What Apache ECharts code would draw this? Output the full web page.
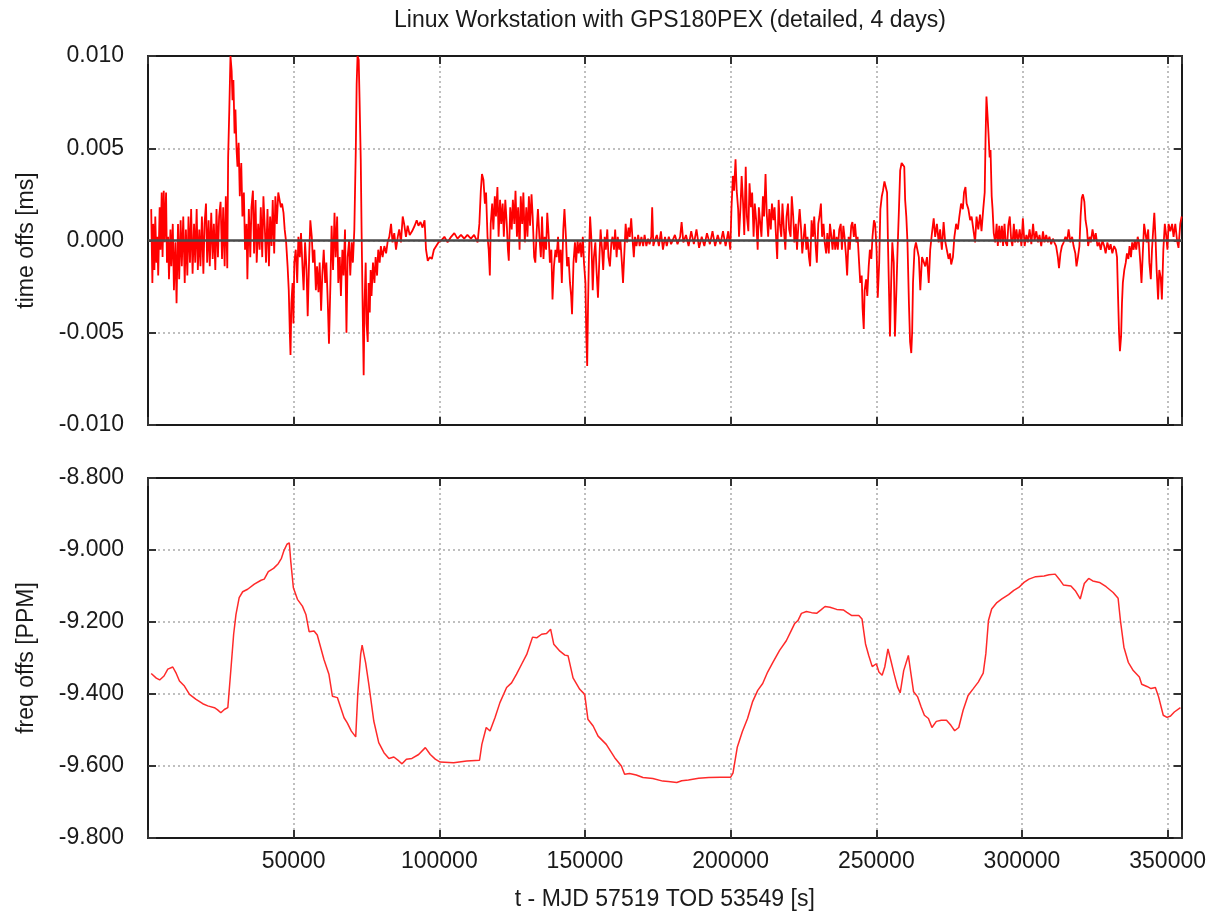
<!DOCTYPE html>
<html>
<head>
<meta charset="utf-8">
<title>GPS180PEX offsets</title>
<script src="https://cdn.jsdelivr.net/npm/echarts@6/dist/echarts.min.js"></script>
<style>
  html, body { margin: 0; padding: 0; background: #fff; }
  #chart { width: 1209px; height: 915px; }
</style>
</head>
<body>
<div id="chart"></div>
<script>
// time offset, pairs of [t in s, offset in microseconds]
const timeOffsSeg1 = [
  [1100,1.7],[1500,-2.3],[1800,0.9],[2200,-1.6],[2500,1.3],[2900,-1.2],[3200,0.2],[3500,-1.9],[4000,1.8],[4300,-0.5],
  [4700,2.6],[5000,-0.9],[5400,2.7],[5700,-0.1],[6200,2.6],[6500,-1.2],[6900,0.2],[7200,-2.1],[7700,0.6],[8000,-1.4],
  [8500,0.9],[8900,-2.7],[9400,-0.1],[9800,-3.4],[10300,0.9],[10700,-2.1],[11200,1.1],[11600,-1.4],[12100,1.3],[12600,-2.3],
  [13000,0.6],[13500,-1.9],[13900,1.3],[14400,-1.2],[14800,1.7],[15300,-1.8],[15800,0.9],[16200,-1.2],[16700,1.7],[17100,-1.6],
  [17600,0.6],[18000,-1.4],[18500,1.3],[19000,-1.8],[19400,0.9],[19900,2.0],[20300,-1.2],[20800,1.1],[21200,-1.4],[21700,1.5],
  [22200,-1.0],[22600,0.9],[23100,-1.6],[23500,1.7],[24000,-0.9],[24400,1.3],[24900,2.1],[25400,-1.0],[25800,1.8],[26300,-1.4],
  [26700,2.4],[27200,-1.5],[27500,4.5],[27900,7.1],[28300,10.0],[28700,9.2],[29000,7.6],[29300,8.7],[29700,5.8],[30000,7.1],
  [30400,4.9],[30700,4.0],[31100,5.3],[31500,2.4],[32000,4.2],[32400,1.3],[32900,2.6],[33300,-0.5],[33800,0.9],[34100,-2.1],
  [34600,1.7],[35100,-0.9],[35500,1.8],[36000,2.7],[36400,-0.7],[36900,2.2],[37300,-1.2],[37800,0.9],[38300,-0.5],[38700,1.8],
  [39200,-0.9],[39600,2.4],[40100,0.6],[40500,-1.2],[41000,1.7],[41500,-1.4],[41900,1.3],[42400,-0.3],[42800,2.2],[43300,-0.7],
  [43700,2.4],[44200,0.9],[44700,2.6],[45100,2.6],[45600,1.8],[46000,2.0],[46500,1.5],[46900,0.6],[47400,-0.1],[47900,-1.4],
  [48300,-2.7],[48700,-5.2],[48900,-6.2],[49200,-3.4],[49600,-2.3],[49900,-4.5],[50200,-1.2],[50700,-0.5],[51200,-2.3],[51600,0.2],
  [52100,-0.9],[52500,0.4],[53000,-1.4],[53400,-2.7],[53900,-0.1],[54400,-1.6],[54800,-4.1],[55300,-0.9],[55700,1.1],[56200,0.2],
  [56600,-1.2],[57100,-0.5],[57600,-2.7],[58000,-1.4],[58500,-2.8],[58900,-1.2],[59400,-3.8],[59800,-1.9],[60300,-0.5],[60800,-2.3],
  [61200,-1.2],[61700,-3.4],[62100,-5.6],[62600,-2.3],[63000,0.8],[63500,-1.6],[64000,1.5],[64400,-0.9],[64900,1.3],[65300,-2.3],
  [65800,-0.9],[66200,-3.0],[66700,-0.5],[67100,-1.9],[67600,0.6],[68100,-5.0],[68500,-0.9],[69000,0.0],[69400,-1.9],[69900,-0.1],
  [70300,-1.2],[70800,0.6],[71300,4.9],[71600,8.5],[71900,10.0],[72300,9.8],[72600,7.6],[73000,4.4],[73300,0.4],[73700,-4.1],
  [74000,-7.3],[74300,-3.4],[74700,-1.2],[75000,-4.5],[75400,-5.5],[75700,-2.3],[76100,-3.9],[76400,-1.6],[76700,-3.0],[77200,-1.2],
  [77700,-2.3],[78100,-0.9],[78600,-1.9],[79000,-0.5],[79500,-1.2],[79900,-0.3],[80500,-0.9],[81100,-0.3],[81700,-0.7],[82200,-0.1],
  [82800,0.2],[83400,0.9],[83900,-0.1],[84500,0.4],[85100,-0.5],[85700,0.2],[86200,0.6],[86800,-0.1],[87400,1.3],[87900,0.9],
  [88500,0.2],[89100,0.8]
];
const timeOffsSeg2 = [
  [89800,0.3],[90600,0.5],[91500,0.8],[92200,1.1],[92800,0.8],[93500,1.0],[94200,0.7],[94900,1.1],[95400,-0.5],[96000,-1.1],
  [96700,-0.9],[97400,-1.0],[98100,-0.5],[98900,-0.3],[99700,-0.1],[100600,0.0],[101700,0.2],[102800,-0.1],[104000,0.2],[105100,0.4],
  [106200,0.1],[107400,0.3],[108500,0.1],[109600,0.3],[110800,0.1],[111900,0.3],[113100,-0.1],[113700,0.9],[114200,2.7],[114600,3.6],
  [115100,3.3],[115600,2.0],[116000,2.6],[116500,0.2],[116900,-0.5],[117300,-1.9],[117600,0.9],[118100,2.0],[118500,0.6],[119000,2.4],
  [119400,1.3],[119900,2.9],[120300,0.2],[120800,2.2],[121200,0.9],[121700,2.0],[122100,0.2],[122600,2.2],[123100,0.9],[123500,-0.5],
  [123800,-1.1],[124300,1.8],[124800,0.6],[125200,2.2],[125700,0.9],[126100,2.7],[126600,0.2],[127000,1.8],[127500,-0.5],[127900,2.4],
  [128400,0.9],[128800,2.6],[129300,-0.1],[129800,1.8],[130200,0.2],[130700,2.4],[131100,0.8],[131600,2.5],[132000,1.3],[132500,-0.9],
  [132900,-1.2],[133400,0.6],[133800,1.7],[134300,0.2],[134800,-0.9],[135200,1.3],[135700,-1.0],[136100,0.2],[136600,-0.5],[137000,1.5],
  [137500,0.2],[137900,-1.2],[138400,-0.5],[138800,-3.2],[139300,-1.4],[139800,-0.5],[140200,-0.9],[140700,0.2],[141100,-1.2],[141600,-0.5],
  [142000,-2.3],[142500,0.6],[142900,1.7],[143400,0.2],[143800,-1.4],[144300,-0.9],[144800,-2.3],[145200,-3.0],[145500,-4.0],[146000,-1.2],
  [146500,-0.1],[146900,-1.2],[147400,0.0],[147800,-0.7],[148300,-0.1],[148700,-0.9],[149200,0.2],[149600,-1.2],[150100,-2.3],[150400,-5.2],
  [150700,-6.8],[151000,-3.4],[151300,-0.9],[151700,1.3],[152100,0.2],[152600,-2.7],[153000,-0.9],[153500,-0.1],[153900,-1.6],[154400,-3.1],
  [154900,-0.9],[155300,0.6],[155800,-0.5],[156200,-1.6],[156700,0.2],[157100,-0.5],[157600,0.6],[158000,-0.9],[158500,-1.4],[159000,-0.1],
  [159400,0.2],[159900,-0.5],[160300,0.6],[160800,-0.9],[161200,0.2],[161700,-0.5],[162100,0.0],[162600,-1.2],[163000,-2.3],[163500,-0.5],
  [163900,0.9],[164400,-0.1],[164900,0.7],[165300,0.2],[165800,1.2],[166200,0.2],[166700,-0.9],[167100,0.2],[167600,-0.3],[168200,0.3],
  [168700,-0.3],[169300,0.2],[169900,-0.3],[170400,0.3],[171000,-0.3],[171600,0.1],[172100,-0.2],[172700,0.2],[173000,1.8],[173400,-0.3],
  [173900,0.0],[174600,0.3],[175300,-0.3],[176000,0.5],[176700,-0.5],[177400,0.2],[178000,-0.3],[178700,0.2],[179500,-0.2]
];
const timeOffsSeg3 = [
  [179900,-0.3],[180800,0.3],[181700,-0.2],[182600,0.2],[183100,1.0],[183700,-0.1],[184600,0.3],[185500,-0.3],[186400,0.5],[187300,-0.2],
  [188200,0.6],[189100,-0.4],[190000,0.2],[190900,-0.3],[191800,0.4],[192800,-0.2],[193700,0.5],[194600,-0.3],[195500,0.3],[196400,-0.2],
  [197300,0.5],[198200,-0.3],[199100,0.5],[199800,-0.5],[200200,1.7],[200700,3.5],[201100,2.7],[201600,4.4],[202000,2.7],[202500,1.7],
  [202800,0.2],[203300,1.8],[203700,3.5],[204200,2.0],[204600,0.3],[205100,4.0],[205500,1.3],[206000,0.5],[206400,3.1],[206900,1.8],
  [207300,2.6],[207800,0.2],[208200,2.0],[208700,1.1],[209200,-0.5],[209600,1.8],[210100,0.9],[210500,0.2],[211000,2.4],[211400,1.3],
  [211900,3.6],[212300,1.5],[212800,0.2],[213200,1.7],[213700,0.6],[214100,2.0],[214600,1.1],[215000,1.8],[215500,0.2],[215900,-1.0],
  [216400,2.2],[216800,0.9],[217300,0.2],[217700,2.0],[218200,0.6],[218700,-0.5],[219100,1.3],[219600,2.0],[220000,0.6],[220500,0.2],
  [220900,2.4],[221400,1.3],[221800,-0.1],[222300,0.9],[222700,-0.5],[223200,0.9],[223600,1.7],[224100,0.6],[224500,-0.7],[225000,0.2],
  [225400,0.9],[225900,-0.5],[226300,0.2],[226800,-0.9],[227200,-1.4],[227700,1.1],[228200,0.2],[228600,1.3],[229100,-0.3],[229500,-1.2],
  [230000,0.9],[230400,1.3],[230900,2.0],[231300,0.2],[231800,0.9],[232200,-0.1],[232700,-0.7],[233100,0.4],[233600,-0.7],[234000,0.9],
  [234500,0.2],[234900,-0.5],[235400,0.6],[235800,-0.5],[236300,0.2],[236700,-0.5],[237200,0.6],[237700,0.9],[238100,-0.5],[238600,0.8],
  [239000,0.2],[239500,-0.8],[239900,-1.9],[240400,0.2],[240800,-0.5],[241300,0.8],[241700,1.0],[242200,0.2],[242600,0.9],[243100,-0.1],
  [243500,0.2],[244000,-1.2],[244400,-2.3],[244900,-1.9],[245200,-3.7],[245600,-4.8],[245900,-2.7],[246400,-2.1],[246800,-3.0],[247300,-1.4],
  [247700,-0.5],[248200,-1.0],[248600,0.2],[249100,1.1],[249500,0.9],[250000,-0.5],[250400,-3.1],[250900,-1.2],[251300,1.7],[251800,2.4],
  [252200,2.7],[252700,3.2],[253100,3.3],[253600,2.6],[253900,-0.1],[254300,-3.0],[254600,-5.2],[255000,-2.3],[255400,-0.1],[255900,-1.2],
  [256300,-5.2],[256800,-2.7],[257200,-0.5],[257700,1.8],[258100,3.8],[258600,4.2],[259000,4.3],[259500,4.0],[259800,2.2],[260200,1.3],
  [260600,-0.1],[261100,-3.4],[261500,-5.5],[261900,-6.1],[262200,-5.0],[262500,-2.3],[263000,-0.5],[263500,-0.1],[264000,-0.5],[264500,-0.9],
  [265000,-2.7],[265600,-0.9],[266200,-1.0],[266700,-1.4]
];
const timeOffsSeg4 = [
  [267300,-0.9],[267900,-2.3],[268400,-0.5],[269000,0.4],[269600,1.2],[270100,0.2],[270700,0.9],[271300,-0.1],[271800,0.6],[272400,-0.5],
  [273000,1.0],[273500,0.0],[274100,-0.5],[274700,-1.0],[275200,-0.7],[275600,-1.3],[276200,-0.9],[276700,0.2],[277300,0.9],[277900,0.6],
  [278400,1.3],[279000,2.0],[279600,1.7],[280000,2.6],[280500,2.9],[280900,2.0],[281500,1.7],[282100,1.1],[282600,1.3],[283200,0.6],
  [283800,-0.1],[284300,1.3],[284900,0.6],[285500,1.4],[286000,0.5],[286600,1.7],[287100,2.6],[287400,5.6],[287700,7.8],[288100,6.7],
  [288400,5.8],[288800,4.5],[289100,4.9],[289500,2.4],[289800,1.7],[290200,0.4],[290700,-0.1],[291200,0.9],[291600,-0.3],[292100,0.8],
  [292500,-0.1],[293000,0.8],[293400,-0.3],[293900,0.9],[294300,-0.1],[294800,-0.3],[295200,0.8],[295700,1.3],[296200,0.0],[296600,-0.3],
  [297100,0.9],[297500,-0.1],[298000,0.6],[298500,-0.1],[299100,0.6],[299700,-0.3],[300200,1.2],[300800,-0.3],[301400,0.3],[301900,-0.1],
  [302500,0.6],[303100,-0.2],[303700,0.9],[304200,0.0],[304800,0.5],[305400,-0.1],[305900,0.3],[306500,-0.3],[307100,0.5],[307600,-0.1],
  [308200,0.3],[308800,-0.1],[309300,0.2],[309900,-0.2],[310500,0.1],[311000,-0.1],[311600,-0.3],[312200,-0.9],[312600,-1.5],[313100,-0.7],
  [313600,-0.3],[314200,-0.1],[314800,0.2],[315400,0.0],[315900,0.6],[316500,-0.1],[317100,0.2],[317600,-0.3],[318200,-0.7],[318600,-1.4],
  [319100,-0.9],[319600,-0.3],[320000,1.3],[320400,2.3],[320800,2.5],[321300,2.1],[321700,1.1],[322200,0.6],[322600,-0.3],[323100,0.2],
  [323500,-0.1],[324100,0.6],[324700,0.0],[325200,0.4],[325800,-0.3],[326400,-0.1],[326900,-0.5],[327500,0.0],[328100,-0.3],[328600,-0.7],
  [329200,-0.1],[329800,-0.5],[330300,-0.2],[330900,-0.7],[331500,-0.3],[332100,-0.5],[332500,-0.9],[332800,-2.7],[333200,-5.0],[333500,-6.0],
  [333900,-5.2],[334200,-3.4],[334500,-2.3],[335000,-1.6],[335500,-1.2],[335900,-0.7],[336400,-1.0],[336800,-0.3],[337300,-0.9],[337700,-0.1],
  [338200,-0.5],[338600,0.0],[339100,-0.5],[339600,0.2],[340000,-0.1],[340500,-1.2],[340900,-2.3],[341400,-0.5],[341800,0.9],[342300,0.8],
  [342700,-0.1],[343200,0.6],[343600,-1.2],[344100,-2.1],[344500,-0.5],[345000,0.8],[345300,1.5],[345700,0.2],[346100,-1.6],[346600,-3.2],
  [347000,-1.6],[347500,-2.0],[347900,-3.2],[348400,-0.5],[348900,0.9],[349300,0.4],[349800,-0.5],[350200,0.9],[350800,0.5],[351400,0.9],
  [351900,0.2],[352500,0.9],[353100,0.0],[353600,-0.4],[354200,0.9],[354700,1.3]
];

// frequency offset, pairs of [t in s, offset in PPM]
const freqOffsA = [
  [1100,-9.343],[2850,-9.356],[4000,-9.361],[5500,-9.350],[6800,-9.331],[8500,-9.325],[9700,-9.343],[10800,-9.364],[12500,-9.378],[14250,-9.401],
  [16500,-9.415],[18800,-9.427],[20500,-9.433],[22800,-9.438],[23900,-9.444],[25000,-9.452],[26200,-9.443],[27400,-9.438],[28500,-9.327],[29400,-9.234],
  [30200,-9.179],[31300,-9.132],[32500,-9.116],[34200,-9.109],[36500,-9.095],[38800,-9.084],[39900,-9.081],[41300,-9.060],[43100,-9.051],[44700,-9.038],
  [45800,-9.023],[46700,-9.001],[47700,-8.984],[48500,-8.980],[49000,-9.031],[49900,-9.105],[51300,-9.137],[53000,-9.156],[54200,-9.179],[55300,-9.227],
  [57000,-9.225],[58100,-9.236],[60400,-9.304],[62100,-9.345],[63300,-9.406],[65000,-9.410],[67300,-9.466],[68400,-9.480],[69800,-9.503],[71300,-9.519],
  [72000,-9.401],[73000,-9.290],[73500,-9.264],[74700,-9.313],[75800,-9.373],[77500,-9.475],[79200,-9.535],[81000,-9.563],[82700,-9.579],[84400,-9.575],
  [86100,-9.586],[87200,-9.594],[88700,-9.581],[90600,-9.579],[92900,-9.568],[95200,-9.549],[96900,-9.568],[98600,-9.581],[100300,-9.589],[104900,-9.591],
  [109400,-9.586],[113800,-9.584],[114600,-9.540],[116100,-9.493],[117400,-9.503],[119100,-9.466],[120800,-9.424],[123100,-9.382],[124800,-9.369],[126500,-9.345],
  [128200,-9.318],[130000,-9.290],[132000,-9.242],[133400,-9.244],[135100,-9.234],[136800,-9.232],[138200,-9.220],[139300,-9.262],[141400,-9.281],[143100,-9.292],
  [144200,-9.294],[145900,-9.355],[148200,-9.387],[149900,-9.401],[151000,-9.470],[152800,-9.489],[154500,-9.517],[157300,-9.540],[160200,-9.577],[162500,-9.600],
  [163600,-9.623],[165300,-9.621],[167600,-9.625],[169900,-9.632],[173300,-9.635],[176700,-9.642]
];
const freqOffsB = [
  [178600,-9.643],[181500,-9.646],[183200,-9.641],[185500,-9.639],[189000,-9.634],[192500,-9.632],[196500,-9.631],[200000,-9.631],[200800,-9.620],[202300,-9.547],
  [204000,-9.505],[205800,-9.468],[207500,-9.422],[209300,-9.390],[211000,-9.371],[212700,-9.339],[214500,-9.312],[216800,-9.279],[219100,-9.252],[220800,-9.224],
  [222000,-9.204],[223100,-9.196],[224300,-9.176],[226000,-9.171],[227800,-9.174],[229500,-9.176],[230900,-9.167],[232400,-9.157],[234100,-9.159],[236400,-9.165],
  [238800,-9.167],[239900,-9.173],[241600,-9.182],[244000,-9.182],[245100,-9.192],[246300,-9.261],[247400,-9.293],[248600,-9.324],[250000,-9.316],[250900,-9.339],
  [252000,-9.348],[252900,-9.325],[254000,-9.275],[255000,-9.307],[256100,-9.344],[257300,-9.381],[258200,-9.397],[259400,-9.335],[261000,-9.293],[261900,-9.344],
  [262800,-9.394],[264200,-9.408],[265400,-9.436],[266500,-9.459],[267900,-9.468],[269100,-9.493],[270600,-9.476],[272300,-9.473],[274100,-9.473],[275600,-9.487],
  [276900,-9.502],[278300,-9.493],[279800,-9.445],[281500,-9.404],[283300,-9.385],[285000,-9.367],[286700,-9.342],[287600,-9.288],[288500,-9.196],[289600,-9.164],
  [291400,-9.146],[293100,-9.136],[295400,-9.124],[297200,-9.112],[298900,-9.104],[300700,-9.090],[302400,-9.081],[304700,-9.074],[307600,-9.072],[309300,-9.069],
  [311400,-9.067],[312800,-9.081],[314200,-9.097],[316800,-9.100],[318300,-9.113],[320000,-9.136],[321400,-9.093],[322900,-9.079],[324300,-9.086],[326600,-9.090],
  [328900,-9.102],[331300,-9.118],[333000,-9.134],[333800,-9.196],[335000,-9.270],[336500,-9.312],[338200,-9.335],[340300,-9.353],[341100,-9.373],[342900,-9.379],
  [344300,-9.385],[345800,-9.382],[346900,-9.408],[348500,-9.459],[349800,-9.465],[351000,-9.461],[352300,-9.450],[354400,-9.438]
];

const xTicks = [50000, 100000, 150000, 200000, 250000, 300000, 350000];
const timeTicks = [-0.010, -0.005, 0.000, 0.005, 0.010];
const freqTicks = [-9.8, -9.6, -9.4, -9.2, -9.0, -8.8];

const tMax = 354800;
const font = 'Liberation Sans, Arial, sans-serif';
const ink = '#1a1a1a';

// us -> ms
const timeData = [].concat(timeOffsSeg1, timeOffsSeg2, timeOffsSeg3, timeOffsSeg4)
  .map(p => [p[0], p[1] / 1000]);
const freqData = freqOffsA.concat(freqOffsB);

const tick = { show: true, inside: true, length: 8, lineStyle: { color: '#333', width: 2 } };
const line = { show: true, onZero: false, lineStyle: { color: ink, width: 2 } };
const split = { show: true, lineStyle: { color: '#aaa', width: 1.5, type: [2, 3] } };
const labelStyle = { fontFamily: font, fontSize: 23, color: ink };

function xAxisFor(grid, pos, withLabels, withName) {
  return {
    type: 'value', gridIndex: grid, position: pos,
    min: 0, max: tMax, interval: xTicks[1] - xTicks[0],
    axisLine: line, axisTick: tick,
    splitLine: pos === 'bottom' ? split : { show: false },
    axisLabel: withLabels ? Object.assign({
      margin: 12,
      formatter: v => xTicks.indexOf(v) >= 0 ? String(v) : ''
    }, labelStyle) : { show: false },
    name: withName ? 't - MJD 57519 TOD 53549 [s]' : '',
    nameLocation: 'middle', nameGap: 50,
    nameTextStyle: labelStyle
  };
}

function yAxisFor(grid, pos, ticks, name) {
  const iv = ticks[1] - ticks[0];
  return {
    type: 'value', gridIndex: grid, position: pos,
    min: ticks[0], max: ticks[ticks.length - 1], interval: iv,
    axisLine: line, axisTick: tick,
    splitLine: pos === 'left' ? split : { show: false },
    axisLabel: pos === 'left' ? Object.assign({
      margin: 24,
      formatter: v => (Math.abs(v) < 1e-9 ? 0 : v).toFixed(3)
    }, labelStyle) : { show: false },
    name: name || '',
    nameLocation: 'middle', nameGap: 110,
    nameTextStyle: labelStyle
  };
}

const chart = echarts.init(document.getElementById('chart'), null, { renderer: 'canvas' });
chart.setOption({
  animation: false,
  backgroundColor: '#fff',
  title: {
    text: 'Linux Workstation with GPS180PEX (detailed, 4 days)',
    left: 665, top: 4, textAlign: 'center',
    textStyle: { fontFamily: font, fontSize: 23, fontWeight: 'normal', color: ink }
  },
  grid: [
    { left: 148, right: 27, top: 56, height: 369 },
    { left: 148, right: 27, top: 478, height: 360 }
  ],
  xAxis: [
    xAxisFor(0, 'bottom', false, false),
    xAxisFor(0, 'top', false, false),
    xAxisFor(1, 'bottom', true, true),
    xAxisFor(1, 'top', false, false)
  ],
  yAxis: [
    yAxisFor(0, 'left', timeTicks, 'time offs [ms]'),
    yAxisFor(0, 'right', timeTicks),
    yAxisFor(1, 'left', freqTicks, 'freq offs [PPM]'),
    yAxisFor(1, 'right', freqTicks)
  ],
  series: [
    {
      type: 'line', xAxisIndex: 0, yAxisIndex: 0,
      data: timeData, showSymbol: false, symbol: 'none',
      lineStyle: { color: '#ff0000', width: 1.8 },
      markLine: {
        silent: true, symbol: ['none', 'none'],
        label: { show: false },
        lineStyle: { color: '#4a4a4a', width: 2.5, type: 'solid' },
        data: [{ yAxis: 0 }]
      }
    },
    {
      type: 'line', xAxisIndex: 2, yAxisIndex: 2,
      data: freqData, showSymbol: false, symbol: 'none',
      lineStyle: { color: '#ff2a2a', width: 1.5 }
    }
  ]
});
</script>
</body>
</html>
